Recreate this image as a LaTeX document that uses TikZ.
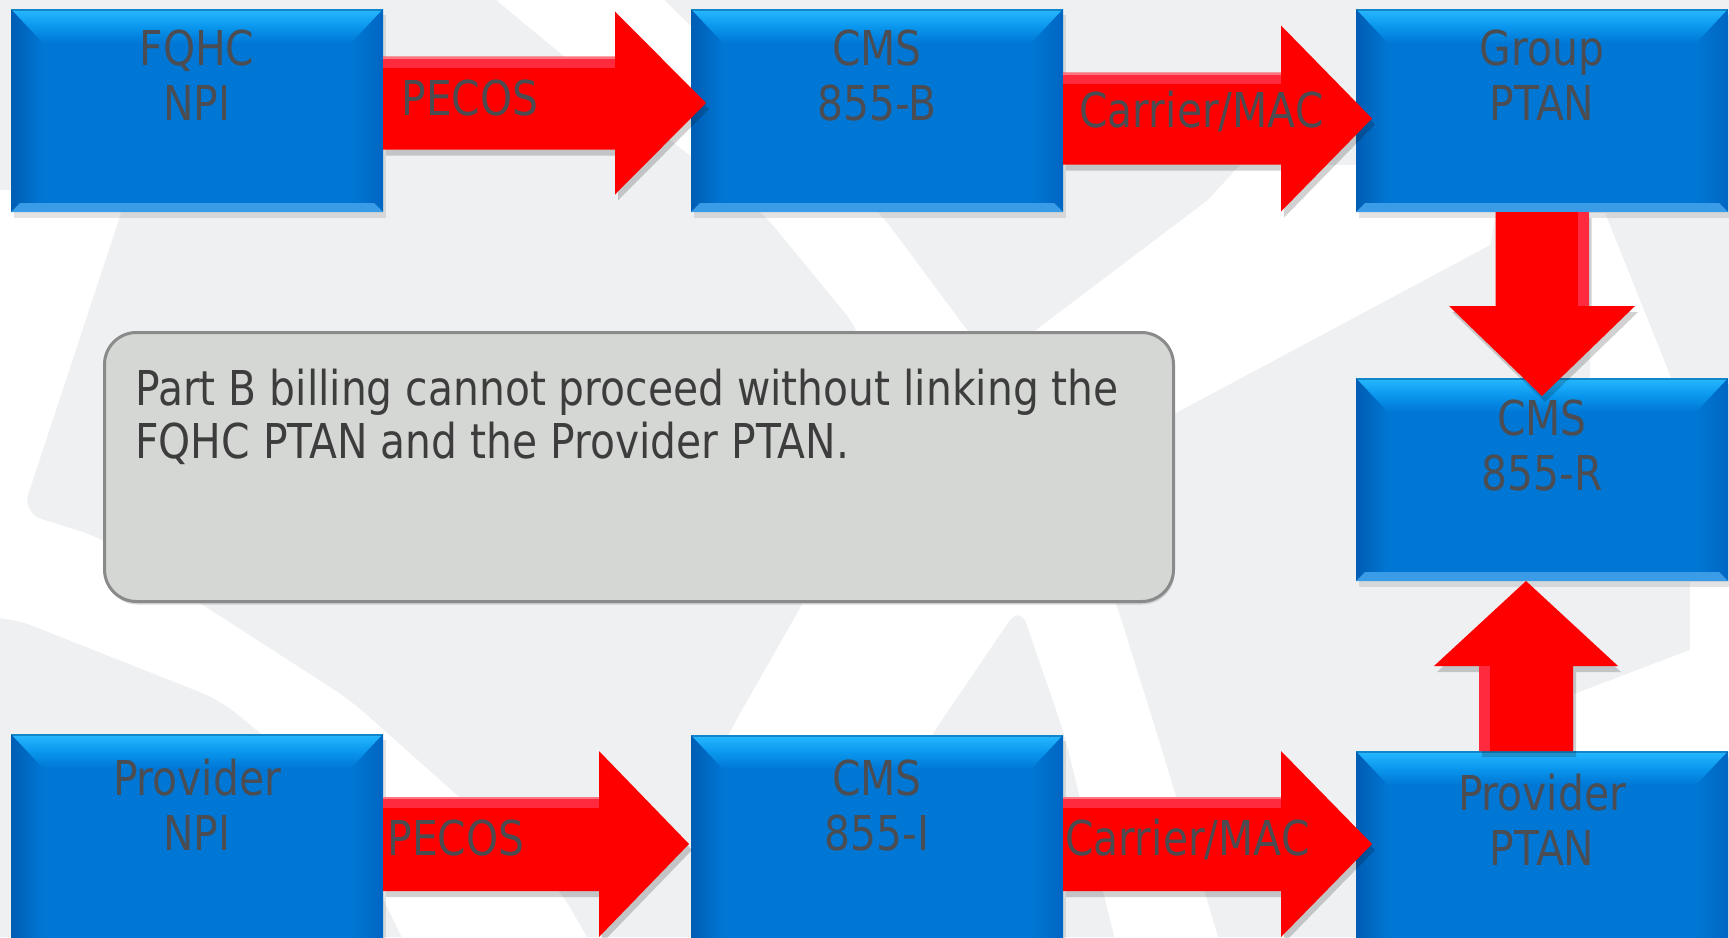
\documentclass[tikz,border=0pt]{standalone}
\usepackage{fontspec}
\setmainfont{DejaVu Sans}[FakeStretch=0.85]
\usetikzlibrary{calc,shadows}
\definecolor{bg}{HTML}{EEF0F2}
\definecolor{boxface}{HTML}{0077D4}
\definecolor{bevtop}{HTML}{28B9FF}
\definecolor{bevmid}{HTML}{0A97EE}
\definecolor{bevleft}{HTML}{005DB3}
\definecolor{bevright}{HTML}{0066C2}
\definecolor{bevbot}{HTML}{3A9CE6}
\definecolor{arrowred}{HTML}{FF0000}
\definecolor{arrowhi}{HTML}{FF2A3E}
\definecolor{txtgray}{HTML}{4B4D52}
\definecolor{notefill}{HTML}{D5D7D4}
\definecolor{noteline}{HTML}{8A8A8A}
\definecolor{notetxt}{HTML}{3D3D3D}
\newcommand\dfont{\fontsize{24pt}{27.5pt}\selectfont}
\newcommand\nfont{\fontsize{24pt}{26.5pt}\selectfont}
% right-pointing block arrow: start, tip, head length, shaft half, head half
\newcommand\rarrow[5]{%
  \begin{scope}[transform canvas={shift={(1.5pt,-3pt)}}]
  \fill[black,opacity=0.18] ($(#1)+(0,-#4)$) -- ($(#2)+(-#3,-#4)$) -- ($(#2)+(-#3,-#5)$) -- (#2) -- ($(#2)+(-#3,#5)$) -- ($(#2)+(-#3,#4)$) -- ($(#1)+(0,#4)$) -- cycle;
  \end{scope}
  \fill[arrowred] ($(#1)+(0,-#4)$) -- ($(#2)+(-#3,-#4)$) -- ($(#2)+(-#3,-#5)$) -- (#2) -- ($(#2)+(-#3,#5)$) -- ($(#2)+(-#3,#4)$) -- ($(#1)+(0,#4)$) -- cycle;
  \fill[arrowhi] ($(#1)+(0,-#4)$) rectangle ($(#2)+(-#3,{-#4+11})$);
  \fill[white,opacity=0.35] ($(#1)+(0,-#4)$) rectangle ($(#2)+(-#3,{-#4+2})$);
}
\newcommand\darrow[5]{%
  \begin{scope}[transform canvas={shift={(1.5pt,-3pt)}}]
  \fill[black,opacity=0.18] ($(#1)+(-#4,0)$) -- ($(#2)+(-#4,-#3)$) -- ($(#2)+(-#5,-#3)$) -- (#2) -- ($(#2)+(#5,-#3)$) -- ($(#2)+(#4,-#3)$) -- ($(#1)+(#4,0)$) -- cycle;
  \end{scope}
  \fill[arrowred] ($(#1)+(-#4,0)$) -- ($(#2)+(-#4,-#3)$) -- ($(#2)+(-#5,-#3)$) -- (#2) -- ($(#2)+(#5,-#3)$) -- ($(#2)+(#4,-#3)$) -- ($(#1)+(#4,0)$) -- cycle;
  \fill[arrowhi] ($(#1)+({#4-11},0)$) rectangle ($(#2)+(#4,-#3)$);
}
\newcommand\uarrow[5]{%
  \begin{scope}[transform canvas={shift={(1.5pt,-3pt)}}]
  \fill[black,opacity=0.18] ($(#1)+(-#4,0)$) -- ($(#2)+(-#4,#3)$) -- ($(#2)+(-#5,#3)$) -- (#2) -- ($(#2)+(#5,#3)$) -- ($(#2)+(#4,#3)$) -- ($(#1)+(#4,0)$) -- cycle;
  \end{scope}
  \fill[arrowred] ($(#1)+(-#4,0)$) -- ($(#2)+(-#4,#3)$) -- ($(#2)+(-#5,#3)$) -- (#2) -- ($(#2)+(#5,#3)$) -- ($(#2)+(#4,#3)$) -- ($(#1)+(#4,0)$) -- cycle;
  \fill[arrowhi] ($(#1)+(-#4,0)$) rectangle ($(#2)+({-#4+11},#3)$);
}
\begin{document}
\begin{tikzpicture}[x=0.5pt,y=-0.5pt,
  bluebox/.style={anchor=north west, inner sep=0pt, outer sep=0pt,
    minimum width=186pt, minimum height=101.5pt, fill=boxface,
    drop shadow={shadow xshift=1.5pt, shadow yshift=-3pt, opacity=0.22},
    path picture={
      \path (path picture bounding box.north west) coordinate (pnw)
            (path picture bounding box.north east) coordinate (pne)
            (path picture bounding box.south west) coordinate (psw)
            (path picture bounding box.south east) coordinate (pse);
      \shade[left color=bevleft, right color=boxface] (pnw) -- ($(pnw)+(32,34)$) -- ($(psw)+(32,-9)$) -- (psw) -- cycle;
      \shade[right color=bevright, left color=boxface] (pne) -- ($(pne)+(-32,34)$) -- ($(pse)+(-32,-9)$) -- (pse) -- cycle;
      \shade[top color=bevtop, bottom color=boxface, middle color=bevmid] (pnw) -- (pne) -- ($(pne)+(-32,34)$) -- ($(pnw)+(32,34)$) -- cycle;
      \fill[bevbot] (psw) -- (pse) -- ($(pse)+(-9,-9)$) -- ($(psw)+(9,-9)$) -- cycle;
      \fill[boxface!70!black,opacity=0.5] (pnw) rectangle ($(pne)+(0,2)$);
    }},
  boxlbl/.style={anchor=base, inner sep=0pt, font=\dfont, text=txtgray},
  arrowlbl/.style={anchor=base west, inner sep=0pt, font=\dfont, text=txtgray},
  notebox/.style={anchor=north west, inner sep=0pt, minimum width=534.5pt, minimum height=134.5pt,
    rounded corners=16pt, fill=notefill, draw=noteline, line width=1.5pt,
    drop shadow={shadow xshift=0.5pt, shadow yshift=-1.5pt, opacity=0.3}},
  notetext/.style={anchor=base west, inner sep=0pt, font=\nfont, text=notetxt},
  swoosh/.style={fill=white},
  curvy/.style={rounded corners=10pt}
]
\clip (0,0) rectangle (1729,937);
\useasboundingbox (0,0) rectangle (1729,937);
\fill[bg] (0,0) rectangle (1729,937);
% background white swooshes
\fill[swoosh,curvy] (-20,190) -- (128,190) -- (121,213) -- (22,513) -- (99,537) -- (198,602) -- (350,700)
  -- (459,797) -- (560,890) -- (600,960) -- (413,960) -- (330,790) -- (220,700) -- (13,618) -- (-20,618) -- cycle;
\fill[swoosh,curvy] (472,-20) -- (560,53) -- (763,213) -- (859,330) -- (885,450) -- (803,603) -- (729,733) -- (700,800)
  -- (905,780) -- (933,733) -- (1020,605) -- (1064,733) -- (1120,960) -- (1225,960) -- (1162,750) -- (1116,603)
  -- (1060,450) -- (967,330) -- (880,213) -- (644,-20) -- cycle;
\fill[swoosh] (1240,165) -- (1208,200) -- (1036,330) -- (1000,380) -- (1100,455) -- (1172,415) -- (1490,245)
  -- (1496,213) -- (1496,165) -- cycle;
\fill[swoosh] (1590,213) -- (1605,213) -- (1680,400) -- (1590,400) -- cycle;
\fill[swoosh] (1690,582) -- (1750,582) -- (1750,751) -- (1574,751) -- (1574,694) -- (1690,650) -- cycle;
% note
\node[notebox] (note) at (103,331) {};
\node[notetext] (notetxt) at (135,405) {\begin{tabular}[t]{@{}l@{}}Part B billing cannot proceed without linking the\\FQHC PTAN and the Provider PTAN.\end{tabular}};
% boxes
\node[bluebox] (fqhc) at (11,9) {};
\node[bluebox] (cmsb) at (691,9) {};
\node[bluebox] (group) at (1356,9) {};
\node[bluebox] (cmsr) at (1356,378) {};
\node[bluebox, minimum height=108pt] (provnpi) at (11,734) {};
\node[bluebox, minimum height=108pt] (cmsi) at (691,735) {};
\node[bluebox, minimum height=108pt] (provptan) at (1356,751) {};
% arrows
\coordinate (a1s) at ($(fqhc.east)+(0,-7.5)$);
\coordinate (a1t) at ($(cmsb.west)+(15,-7.5)$);
\rarrow{a1s}{a1t}{91}{46.5}{91.5}
\coordinate (a2s) at ($(cmsb.east)+(0,8)$);
\coordinate (a2t) at ($(group.west)+(16,8)$);
\rarrow{a2s}{a2t}{91}{46}{93}
\coordinate (a3s) at (group.south);
\coordinate (a3t) at ($(cmsr.north)+(0,18)$);
\darrow{a3s}{a3t}{90}{46.5}{93}
\coordinate (a4s) at ($(provptan.north)+(-16,0)$);
\coordinate (a4t) at ($(cmsr.south)+(-16,0)$);
\uarrow{a4s}{a4t}{85}{47}{92}
\coordinate (a5s) at ($(provnpi.east)+(0,2)$);
\coordinate (a5t) at ($(cmsi.west)+(-2,1)$);
\rarrow{a5s}{a5t}{90}{47}{93}
\coordinate (a6s) at ($(cmsi.east)+(0,1)$);
\coordinate (a6t) at ($(provptan.west)+(16,-15)$);
\rarrow{a6s}{a6t}{91}{47}{93}
% labels
\node[boxlbl] (t1) at ($(fqhc.north)+(0,56)$) {\begin{tabular}[t]{@{}c@{}}FQHC\\NPI\end{tabular}};
\node[boxlbl] (t2) at ($(cmsb.north)+(0,56)$) {\begin{tabular}[t]{@{}c@{}}CMS\\855-B\end{tabular}};
\node[boxlbl] (t3) at ($(group.north)+(0,56)$) {\begin{tabular}[t]{@{}c@{}}Group\\PTAN\end{tabular}};
\node[boxlbl] (t4) at ($(cmsr.north)+(0,57)$) {\begin{tabular}[t]{@{}c@{}}CMS\\855-R\end{tabular}};
\node[boxlbl] (t5) at ($(provnpi.north)+(0,61)$) {\begin{tabular}[t]{@{}c@{}}Provider\\NPI\end{tabular}};
\node[boxlbl] (t6) at ($(cmsi.north)+(0,60)$) {\begin{tabular}[t]{@{}c@{}}CMS\\855-I\end{tabular}};
\node[boxlbl] (t7) at ($(provptan.north)+(0,59)$) {\begin{tabular}[t]{@{}c@{}}Provider\\PTAN\end{tabular}};
\node[arrowlbl] (l1) at ($(a1s)+(18,12)$) {PECOS};
\node[arrowlbl] (l2) at ($(a2s)+(16,9)$) {Carrier/MAC};
\node[arrowlbl] (l5) at ($(a5s)+(4,11)$) {PECOS};
\node[arrowlbl] (l6) at ($(a6s)+(2,11)$) {Carrier/MAC};
\end{tikzpicture}
\end{document}
